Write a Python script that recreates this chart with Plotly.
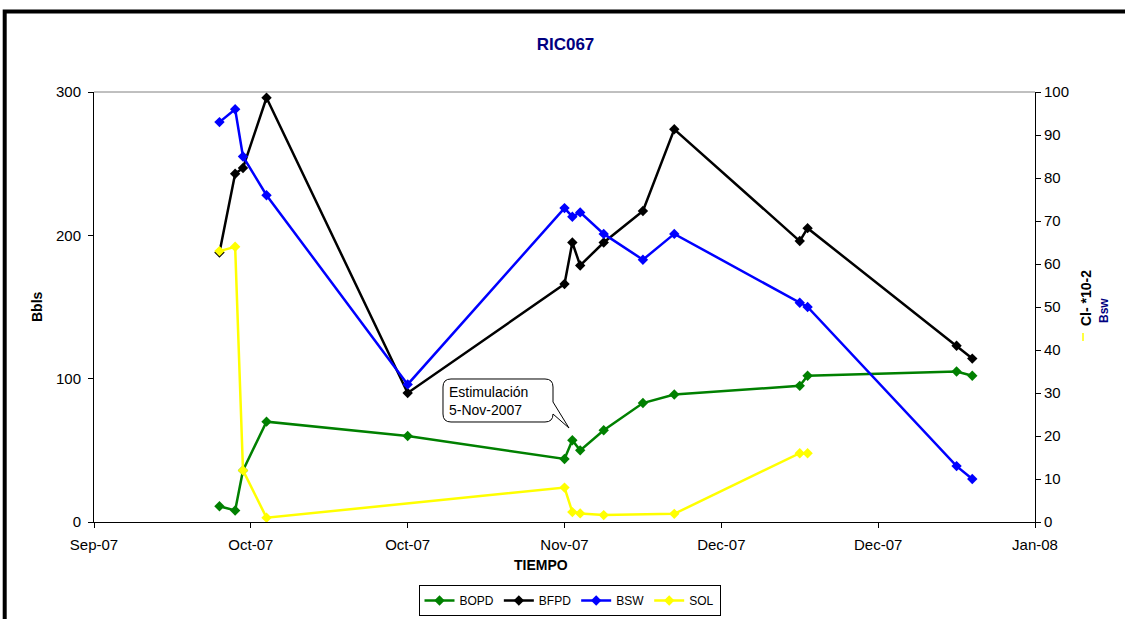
import plotly.graph_objects as go

# Fechas de prueba del pozo RIC067
fechas = ["2007-10-01", "2007-10-03", "2007-10-04", "2007-10-07", "2007-10-25",
          "2007-11-14", "2007-11-15", "2007-11-16", "2007-11-19", "2007-11-24",
          "2007-11-28", "2007-12-14", "2007-12-15", "2008-01-03", "2008-01-05"]

# Barriles por día (eje izquierdo)
bopd = [11, 8, 36, 70, 60, 44, 57, 50, 64, 83, 89, 95, 102, 105, 102]
bfpd = [188, 243, 247, 296, 90, 166, 195, 179, 195, 217, 274, 196, 205, 123, 114]

# BSW (%) y cloruros *10^-2 (eje derecho)
bsw = [93, 96, 85, 76, 32, 73, 71, 72, 67, 61, 67, 51, 50, 13, 10]
sol = [63, 64, 12, 1, None, 8, 2.3, 2, 1.6, None, 1.9, 16, 16, None, None]

FONT = "Arial, Liberation Sans, sans-serif"
W, H = 1125, 619
L, R, T, B = 94, 1035, 92, 522


def px(x):
    return (x - L) / (R - L)


def py(y):
    return (B - y) / (B - T)


fig = go.Figure()

series = [
    ("BOPD", bopd, "#008000", "y"),
    ("BFPD", bfpd, "#000000", "y"),
    ("BSW", bsw, "#0000FF", "y2"),
    ("SOL", sol, "#FFFF00", "y2"),
]
for name, vals, color, axis in series:
    fig.add_trace(go.Scatter(
        x=fechas, y=vals, name=name, yaxis=axis, mode="lines+markers",
        connectgaps=True,
        line=dict(color=color, width=2.5),
        marker=dict(symbol="diamond", size=8, color=color),
    ))

# Globo de texto de la estimulación
pts = [(451, 379), (545, 379), ("Q", 553, 379, 553, 387), (553, 402), (569, 428),
       (553, 414), ("Q", 553, 422, 545, 422), (451, 422), ("Q", 443, 422, 443, 414),
       (443, 387), ("Q", 443, 379, 451, 379)]
path = f"M {px(pts[0][0]):.5f},{py(pts[0][1]):.5f}"
for p in pts[1:]:
    if p[0] == "Q":
        path += f" Q {px(p[1]):.5f},{py(p[2]):.5f} {px(p[3]):.5f},{py(p[4]):.5f}"
    else:
        path += f" L {px(p[0]):.5f},{py(p[1]):.5f}"
path += " Z"

shapes = [
    # borde del área de gráfico
    dict(type="rect", xref="paper", yref="paper",
         x0=px(4.7), x1=px(1140), y0=py(640), y1=py(11.5),
         line=dict(color="black", width=4), layer="above"),
    # borde superior del área de trazado
    dict(type="line", xref="paper", yref="paper", x0=0, x1=1, y0=1, y1=1,
         line=dict(color="#808080", width=1)),
    dict(type="path", xref="paper", yref="paper", path=path,
         line=dict(color="black", width=1), fillcolor="white", layer="above"),
    # marca amarilla junto al título del eje derecho
    dict(type="line", xref="paper", yref="paper",
         x0=px(1083), x1=px(1083), y0=py(341), y1=py(333),
         line=dict(color="#FFFF00", width=1.5)),
]


def label(text, x, y, size=14, color="black", angle=0, **kw):
    return dict(text=text, xref="paper", yref="paper", x=px(x), y=py(y),
                xanchor=kw.get("xanchor", "center"), yanchor="middle",
                align=kw.get("align", "center"), textangle=angle,
                showarrow=False, font=dict(family=FONT, size=size, color=color))


annotations = [
    label("Estimulación<br>5-Nov-2007", 447, 400.5, xanchor="left", align="left"),
    label("<b>Cl- *10-2</b>", 1086, 298, angle=-90),
    label("<b>Bsw</b>", 1104, 311, size=12, color="#000080", angle=-90),
    label("<b>Bbls</b>", 37, 307, angle=-90),
    label("<b>TIEMPO</b>", 541, 565),
]

axis_common = dict(showgrid=False, zeroline=False, showline=True, linecolor="black",
                   linewidth=1, ticks="outside", ticklen=5, tickcolor="black",
                   tickfont=dict(family=FONT, size=15, color="black"))

fig.update_layout(
    width=W, height=H,
    margin=dict(l=L, r=W - R, t=T, b=H - B, autoexpand=False),
    paper_bgcolor="white", plot_bgcolor="white",
    title=dict(text="<b>RIC067</b>", x=px(567), xanchor="center",
               y=1 - 44 / H, yanchor="middle",
               font=dict(family=FONT, size=17, color="#000080")),
    xaxis=dict(type="date", range=["2007-09-15", "2008-01-13"],
               tick0="2007-09-15", dtick=20 * 86400000, tickformat="%b-%y",
               ticklabelstandoff=4, **axis_common),
    yaxis=dict(range=[0, 300], dtick=100, ticklabelstandoff=4, **axis_common),
    yaxis2=dict(range=[0, 100], dtick=10, overlaying="y", side="right",
                **axis_common),
    legend=dict(orientation="h", x=px(569.5), xanchor="center",
                y=py(585), yanchor="top", bordercolor="black", borderwidth=1,
                font=dict(family=FONT, size=12, color="black"),
                itemwidth=30, tracegroupgap=0),
    shapes=shapes,
    annotations=annotations,
)

fig.write_html("out.html")
